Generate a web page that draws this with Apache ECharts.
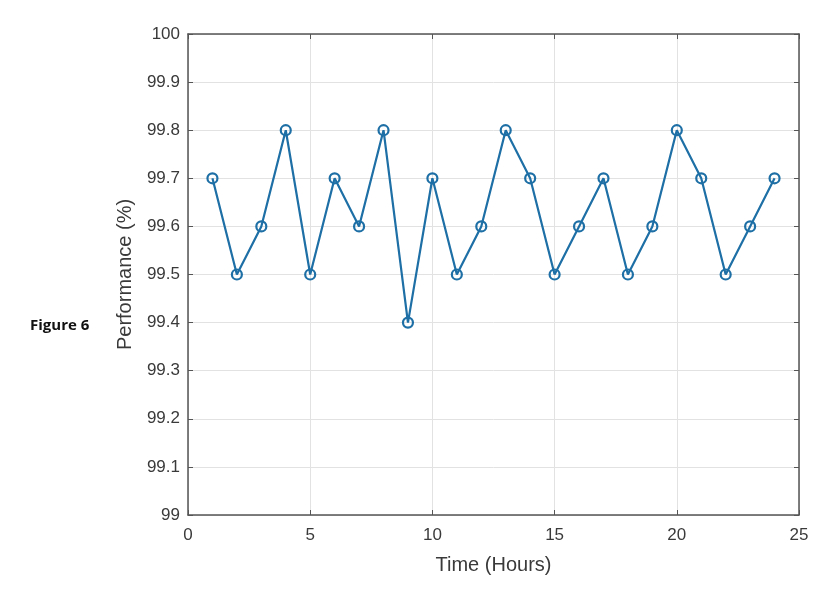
<!DOCTYPE html>
<html>
<head>
<meta charset="utf-8">
<script src="https://cdn.jsdelivr.net/npm/echarts@6/dist/echarts.min.js"></script>
<style>
  html, body { margin: 0; padding: 0; background: #fff; }
  #chart { width: 835px; height: 608px; }
</style>
</head>
<body>
<div id="chart"></div>
<script>
// hours 1..24
const hours = [1, 2, 3, 4, 5, 6, 7, 8, 9, 10, 11, 12, 13, 14, 15, 16, 17, 18, 19, 20, 21, 22, 23, 24];
const performance = [99.7, 99.5, 99.6, 99.8, 99.5, 99.7, 99.6, 99.8, 99.4, 99.7, 99.5, 99.6,
  99.8, 99.7, 99.5, 99.6, 99.7, 99.5, 99.6, 99.8, 99.7, 99.5, 99.6, 99.7];

const myChart = echarts.init(document.getElementById("chart"));
const axisColor = "#555";
const labelColor = "#3a3a3a";
const lineColor = "#1d6fa5";
const font = "Liberation Sans";

const baseX = {
  type: "value",
  min: 0,
  max: 25,
  interval: 5,
  axisLine: { show: true, onZero: false, lineStyle: { color: axisColor, width: 1.5 } },
  axisTick: { show: true, inside: true, length: 5, lineStyle: { color: axisColor } },
  splitLine: { show: true, lineStyle: { color: "#e2e2e2", width: 1 } },
};
const baseY = {
  type: "value",
  min: 99,
  max: 100,
  interval: 0.1,
  axisLine: { show: true, onZero: false, lineStyle: { color: axisColor, width: 1.5 } },
  axisTick: { show: true, inside: true, length: 5, lineStyle: { color: axisColor } },
  splitLine: { show: true, lineStyle: { color: "#e2e2e2", width: 1 } },
};

const option = {
  animation: false,
  grid: { left: 188, top: 34, right: 36, bottom: 93, containLabel: false },
  graphic: [
    {
      type: "text",
      left: 30,
      top: 318,
      style: { text: "Figure 6", font: "bold 15px 'Open Sans'", fill: "#111" },
    },
  ],
  xAxis: [
    Object.assign({}, baseX, {
      position: "bottom",
      name: "Time (Hours)",
      nameLocation: "middle",
      nameGap: 40,
      nameTextStyle: { color: labelColor, fontSize: 20, fontFamily: font },
      axisLabel: {
        color: labelColor, fontSize: 17, fontFamily: font, margin: 12,
        formatter: (v) => String(v),
      },
    }),
    Object.assign({}, baseX, {
      position: "top",
      axisLabel: { show: false },
      splitLine: { show: false },
    }),
  ],
  yAxis: [
    Object.assign({}, baseY, {
      position: "left",
      name: "Performance (%)",
      nameLocation: "middle",
      nameGap: 53,
      nameTextStyle: { color: labelColor, fontSize: 20, fontFamily: font },
      axisLabel: {
        color: labelColor, fontSize: 17, fontFamily: font, margin: 8,
        formatter: (v) => {
          const r = Math.round(v * 10) / 10;
          return Number.isInteger(r) ? String(r) : r.toFixed(1);
        },
      },
    }),
    Object.assign({}, baseY, {
      position: "right",
      axisLabel: { show: false },
      splitLine: { show: false },
    }),
  ],
  series: [
    {
      type: "line",
      xAxisIndex: 0,
      yAxisIndex: 0,
      data: hours.map((h, i) => [h, performance[i]]),
      symbol: "circle",
      symbolSize: 10,
      lineStyle: { color: lineColor, width: 2.2 },
      itemStyle: { color: "rgba(0,0,0,0)", borderColor: lineColor, borderWidth: 2.2 },
    },
  ],
};
myChart.setOption(option);
</script>
</body>
</html>
